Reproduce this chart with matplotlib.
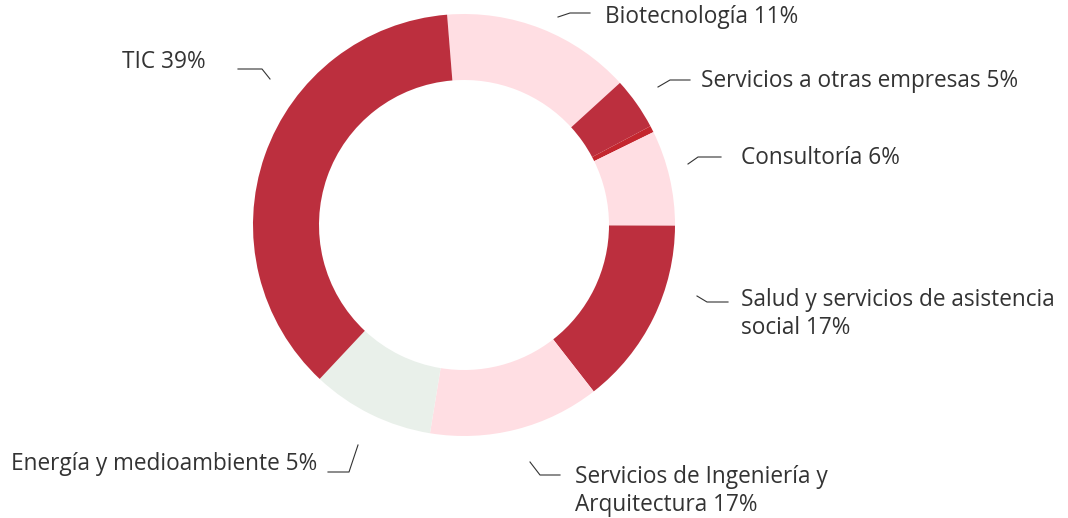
import matplotlib
matplotlib.use('Agg')
import matplotlib.pyplot as plt

W, H = 1068, 518

# slice sizes read from the arcs (clockwise from the top)
sectors = ['Biotecnología', 'Servicios a otras empresas', 'Servicios (banda)',
           'Consultoría', 'Salud', 'Ingeniería', 'Energía', 'TIC']
sizes = [14.5, 4.0, 0.5, 7.3, 14.4, 13.1, 9.4, 36.7]

RED = '#bc2f3e'
PINK = '#ffdee3'
GREEN = '#e9f0ea'
colors = [PINK, RED, '#c4262e', PINK, RED, PINK, GREEN, RED]

label_texts = ['Biotecnología 11%', 'Servicios a otras empresas 5%', 'Consultoría 6%',
               'Salud y servicios de asistencia\nsocial 17%',
               'Servicios de Ingeniería y\nArquitectura 17%',
               'Energía y medioambiente 5%', 'TIC 39%']

plt.rcParams['font.family'] = ['Open Sans', 'DejaVu Sans']

fig = plt.figure(figsize=(W / 100, H / 100), dpi=100)
ax = fig.add_axes([0, 0, 1, 1])


def py(y):
    return H - y


ax.pie(sizes, colors=colors, startangle=94.6, counterclock=False,
       center=(464, py(225)), radius=211, frame=True,
       wedgeprops=dict(width=66, linewidth=0))
ax.set_xlim(0, W)
ax.set_ylim(0, H)
ax.set_aspect('equal')
ax.axis('off')

# label anchor (x, y, ha) and leader polyline, in pixel coords
labels = [
    (605, 17, 'left', [(558, 17), (570, 13), (590, 13)]),
    (701, 81, 'left', [(658, 87), (670, 80), (690, 80)]),
    (741, 158, 'left', [(688, 164), (698, 157), (721, 157)]),
    (741, 314, 'left', [(697, 296), (707, 302), (728, 302)]),
    (575, 491, 'left', [(530, 462), (540, 475), (560, 475)]),
    (317, 464, 'right', [(328, 472), (349, 472), (358, 445)]),
    (206, 62, 'right', [(238, 69), (262, 69), (270, 79)]),
]

for txt, (x, y, ha, pts) in zip(label_texts, labels):
    ax.text(x, py(y), txt, ha=ha, va='center', fontsize=16.3,
            color='#333333', linespacing=1.2)
    ax.plot([p[0] for p in pts], [py(p[1]) for p in pts],
            color='#333333', lw=0.8)

fig.savefig('out.png', dpi=100, facecolor='white')
